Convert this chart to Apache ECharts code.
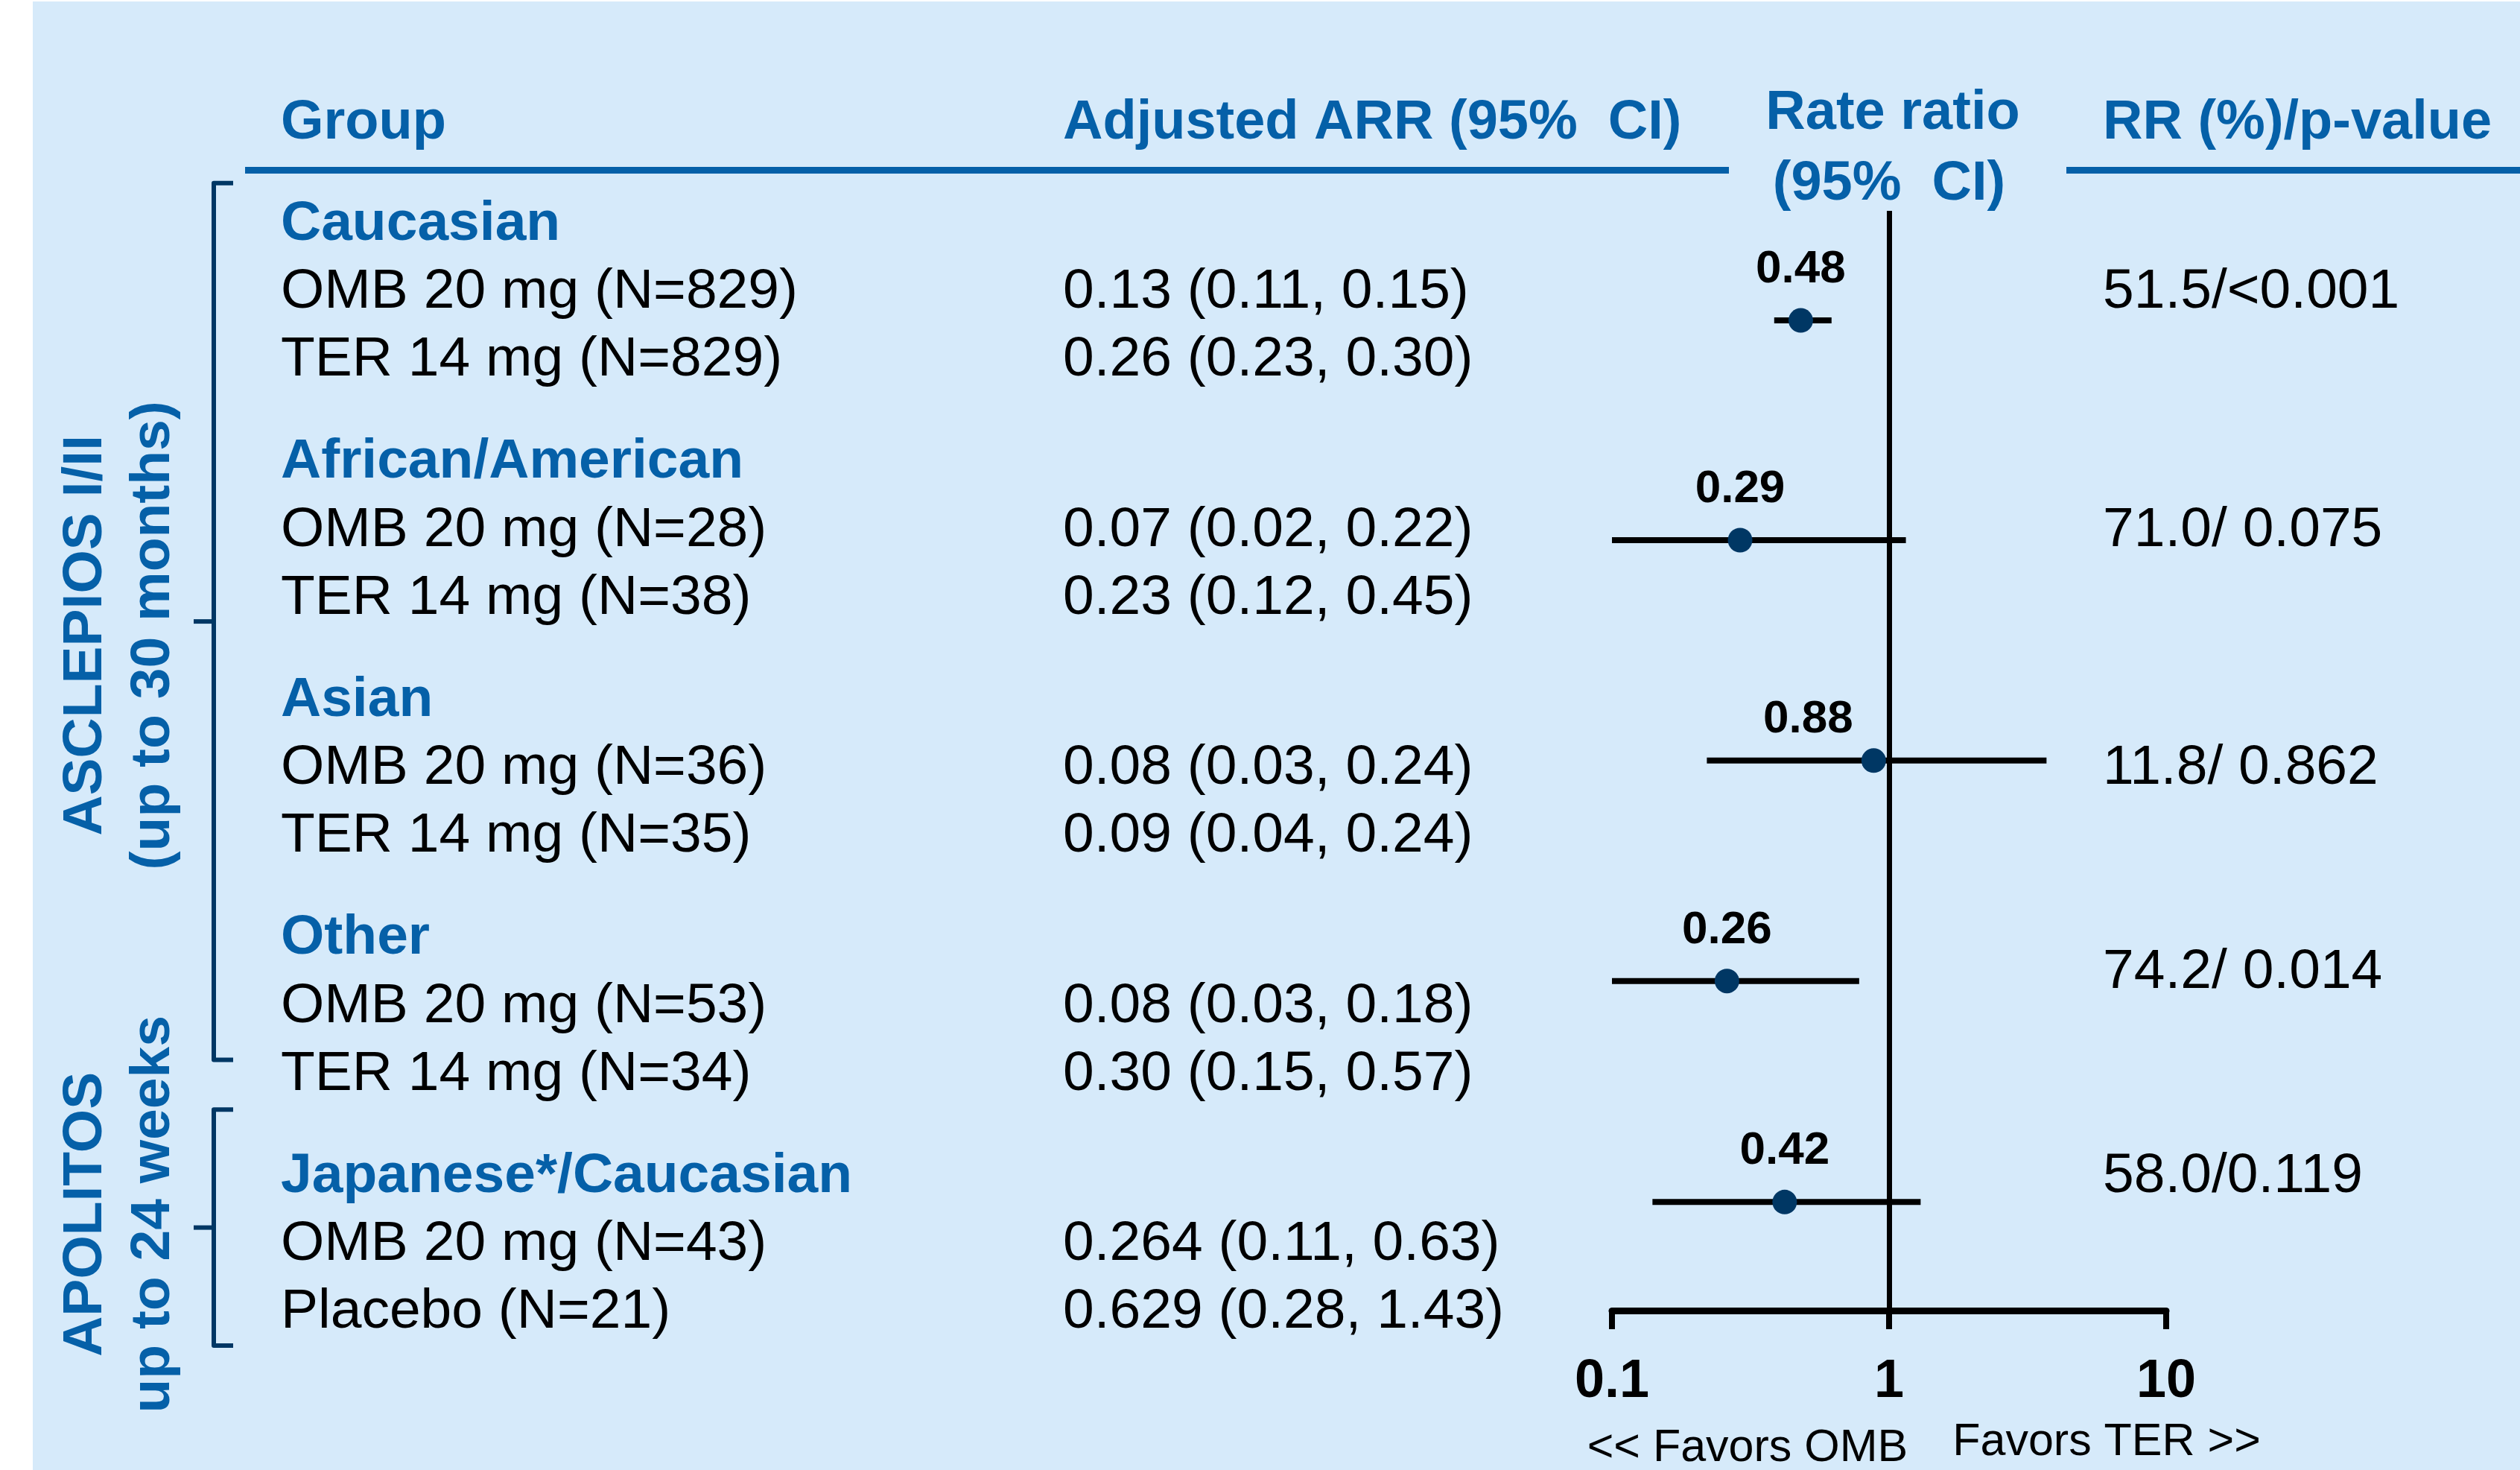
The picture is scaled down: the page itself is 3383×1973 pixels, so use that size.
<!DOCTYPE html>
<html>
<head>
<meta charset="utf-8">
<title>Rate ratio by group</title>
<script src="https://cdn.jsdelivr.net/npm/echarts@6/dist/echarts.min.js"></script>
<style>
  html, body { margin: 0; padding: 0; background: #fff; }
  #chart { width: 3383px; height: 1973px; }
</style>
</head>
<body>
<div id="chart"></div>
<script>
// subgroup headings and the two arms listed under each one
var groupNames = ['Caucasian', 'African/American', 'Asian', 'Other', 'Japanese*/Caucasian'];
var armLabels = [
  ['OMB 20 mg (N=829)', 'TER 14 mg (N=829)'],
  ['OMB 20 mg (N=28)', 'TER 14 mg (N=38)'],
  ['OMB 20 mg (N=36)', 'TER 14 mg (N=35)'],
  ['OMB 20 mg (N=53)', 'TER 14 mg (N=34)'],
  ['OMB 20 mg (N=43)', 'Placebo (N=21)']
];
// adjusted ARR (95% CI) per arm
var arrLabels = [
  ['0.13 (0.11, 0.15)', '0.26 (0.23, 0.30)'],
  ['0.07 (0.02, 0.22)', '0.23 (0.12, 0.45)'],
  ['0.08 (0.03, 0.24)', '0.09 (0.04, 0.24)'],
  ['0.08 (0.03, 0.18)', '0.30 (0.15, 0.57)'],
  ['0.264 (0.11, 0.63)', '0.629 (0.28, 1.43)']
];
// rate ratio with 95% CI
var rrEst = [0.48, 0.29, 0.88, 0.26, 0.42];
var rrLow = [0.385, 0.1, 0.22, 0.1, 0.14];
var rrHigh = [0.62, 1.15, 3.7, 0.78, 1.3];
// row of each estimate, counted in text lines from the first heading
var rrRow = [1.48, 4.71, 7.95, 11.19, 14.44];
// RR (%)/p-value column and the row it sits on
var rrPvalue = ['51.5/<0.001', '71.0/ 0.075', '11.8/ 0.862', '74.2/ 0.014', '58.0/0.119'];
var rrPvalueRow = [1, 4.5, 8, 11, 14];
var tickValues = [0.1, 1, 10];
var tickLabels = ['0.1', '1', '10'];
var studyNames = [['ASCLEPIOS I/II', '(up to 30 months)'], ['APOLITOS', 'up to 24 weeks']];

var FONT = '"Liberation Sans", Arial, sans-serif';
var BLUE = '#0560A8';
var NAVY = '#003764';
var GROUP_STEP = 3.5; // lines between two subgroup headings
var TEXT_DY = 6;      // canvas 'middle' sits a little above the cap centre

var chart = echarts.init(document.getElementById('chart'));

var option = {
  animation: false,
  backgroundColor: '#D6EAFA',
  grid: { left: 2164, right: 475, top: 283, bottom: 214, containLabel: false },
  xAxis: {
    type: 'log',
    logBase: 10,
    min: 0.1,
    max: 10,
    axisLine: { show: true, onZero: false, lineStyle: { color: '#000', width: 9 } },
    axisTick: { show: true, length: 25, lineStyle: { color: '#000', width: 8 } },
    axisLabel: {
      margin: 60,
      color: '#000',
      fontSize: 72,
      fontWeight: 'bold',
      fontFamily: FONT,
      formatter: function (v) {
        for (var i = 0; i < tickValues.length; i++) {
          if (Math.abs(v - tickValues[i]) < 1e-9) return tickLabels[i];
        }
        return '';
      }
    },
    splitLine: { show: false }
  },
  yAxis: {
    type: 'value',
    inverse: true,
    min: -0.131,
    max: 16.035,
    show: false
  },
  series: [
    {
      // CI whiskers
      type: 'custom',
      renderItem: function (params, api) {
        var a = api.coord([api.value(0), api.value(2)]);
        var b = api.coord([api.value(1), api.value(2)]);
        return {
          type: 'line',
          shape: { x1: a[0], y1: a[1], x2: b[0], y2: b[1] },
          style: { stroke: '#000', lineWidth: 8, lineCap: 'butt' }
        };
      },
      encode: { x: [0, 1], y: 2 },
      data: rrLow.map(function (lo, i) { return [lo, rrHigh[i], rrRow[i]]; }),
      markLine: {
        silent: true,
        symbol: ['none', 'none'],
        label: { show: false },
        lineStyle: { color: '#000', width: 7, type: 'solid' },
        data: [{ xAxis: 1 }]
      }
    },
    {
      type: 'scatter',
      symbol: 'circle',
      symbolSize: 33,
      itemStyle: { color: NAVY, opacity: 1 },
      label: {
        show: true,
        position: 'inside',
        offset: [0, -68],
        color: '#000',
        fontSize: 62,
        fontWeight: 'bold',
        fontFamily: FONT,
        formatter: function (p) { return rrEst[p.dataIndex].toFixed(2); }
      },
      data: rrEst.map(function (v, i) {
        var item = { value: [v, rrRow[i]] };
        // the label next to the reference line is pushed left
        if (i === 2) item.label = { offset: [-88, -55] };
        return item;
      })
    }
  ]
};
chart.setOption(option);

function py(u) {
  return chart.convertToPixel({ yAxisIndex: 0 }, u);
}

function txt(x, y, str, opt) {
  opt = opt || {};
  var rot = opt.rotation || 0;
  return {
    type: 'text',
    x: rot ? x + TEXT_DY : x,
    y: rot ? y : y + TEXT_DY,
    rotation: rot,
    style: {
      text: str,
      fill: opt.color || '#000',
      fontSize: opt.size || 75,
      fontWeight: opt.bold ? 'bold' : 'normal',
      fontFamily: FONT,
      textAlign: opt.align || 'left',
      textVerticalAlign: 'middle'
    }
  };
}

var els = [];
// white margin on the left and top
els.push({ type: 'rect', shape: { x: 0, y: 0, width: 44, height: 1973 }, style: { fill: '#fff' } });
els.push({ type: 'rect', shape: { x: 0, y: 0, width: 3383, height: 2 }, style: { fill: '#fff' } });

// column headings
els.push(txt(377, 160, 'Group', { bold: true, color: BLUE, size: 74 }));
els.push(txt(1427, 160, 'Adjusted ARR (95%  CI)', { bold: true, color: BLUE, size: 74 }));
els.push(txt(2541, 147, 'Rate ratio', { bold: true, color: BLUE, size: 74, align: 'center' }));
els.push(txt(2536, 242, '(95%  CI)', { bold: true, color: BLUE, size: 74, align: 'center' }));
els.push(txt(2823, 160, 'RR (%)/p-value', { bold: true, color: BLUE, size: 74 }));
els.push({ type: 'line', shape: { x1: 329, y1: 228.5, x2: 2321, y2: 228.5 }, style: { stroke: BLUE, lineWidth: 9 } });
els.push({ type: 'line', shape: { x1: 2774, y1: 228.5, x2: 3383, y2: 228.5 }, style: { stroke: BLUE, lineWidth: 9 } });

// table rows
groupNames.forEach(function (name, g) {
  var base = g * GROUP_STEP;
  els.push(txt(377, py(base), name, { bold: true, color: BLUE }));
  for (var k = 0; k < 2; k++) {
    els.push(txt(377, py(base + 1 + k), armLabels[g][k]));
    els.push(txt(1427, py(base + 1 + k), arrLabels[g][k]));
  }
});
rrPvalue.forEach(function (s, i) {
  els.push(txt(2823, py(rrPvalueRow[i]), s));
});

// study brackets and rotated study names
var bracketSpan = [[-0.54, 12.35], [13.08, 16.55]];
var studyCenter = [6.11, 14.62];
bracketSpan.forEach(function (span, s) {
  var top = py(span[0]), bottom = py(span[1]), mid = (top + bottom) / 2;
  els.push({
    type: 'polyline',
    shape: { points: [[313, top], [287, top], [287, bottom], [313, bottom]] },
    style: { stroke: NAVY, lineWidth: 6, fill: null, lineJoin: 'round' }
  });
  els.push({ type: 'line', shape: { x1: 260, y1: mid, x2: 287, y2: mid }, style: { stroke: NAVY, lineWidth: 6 } });
  var cy = py(studyCenter[s]);
  els.push(txt(109, cy, studyNames[s][0], { bold: true, color: BLUE, align: 'center', rotation: Math.PI / 2 }));
  els.push(txt(200, cy, studyNames[s][1], { bold: true, color: BLUE, align: 'center', rotation: Math.PI / 2 }));
});

// favours captions under the axis
els.push(txt(2346, 1938, '<< Favors OMB', { size: 61, align: 'center' }));
els.push(txt(2828, 1930, 'Favors TER >>', { size: 61, align: 'center' }));

chart.setOption({ graphic: { elements: els } });
</script>
</body>
</html>
